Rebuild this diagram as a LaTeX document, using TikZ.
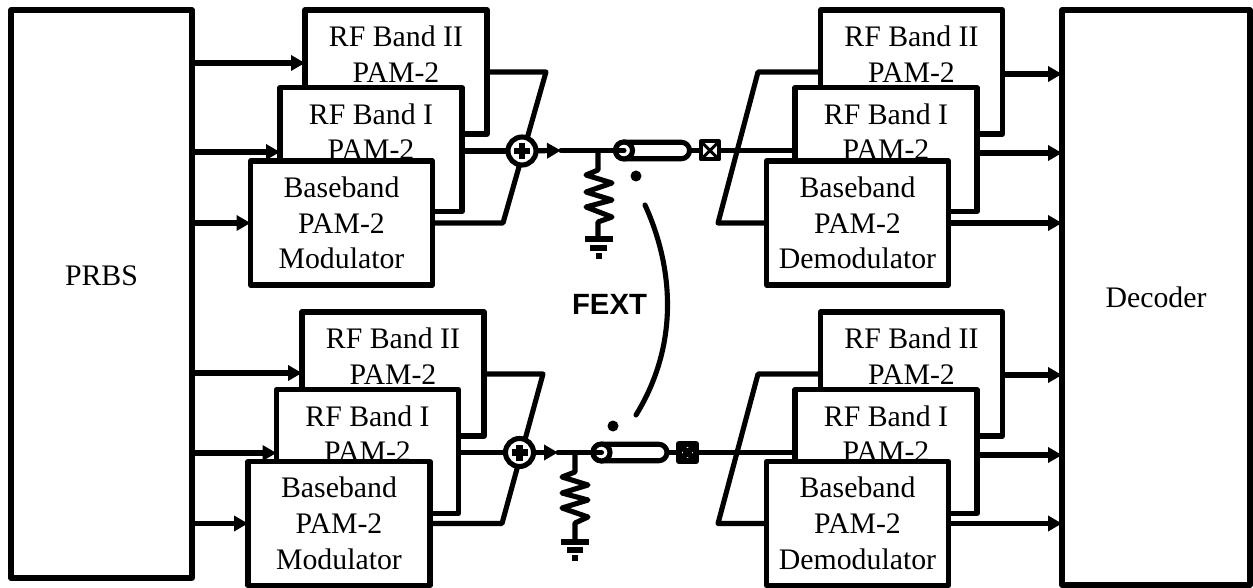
\documentclass[tikz,border=0pt]{standalone}
\usepackage{fontspec}
\setmainfont{Liberation Serif}
\newfontfamily\fextfont{Liberation Sans}
\usetikzlibrary{arrows.meta,shapes.misc}
\pgfdeclarelayer{bg}
\pgfsetlayers{bg,main}
\tikzset{
  lw/.style={line width=5.1pt,line join=round},
  txt/.style={font=\fontsize{29.8}{35.8}\selectfont,align=center},
  bigbox/.style={draw,lw,fill=white,inner sep=0pt,outer sep=0pt,txt},
  modbox/.style={bigbox,minimum width=182pt,minimum height=124pt},
  conn/.style={lw},
  arr/.style={lw,-{Triangle[length=14pt,width=15pt]}},
  sumnode/.style={circle,draw,lw,fill=white,inner sep=0pt,outer sep=0pt,minimum size=28pt,
    path picture={\draw[line width=6.5pt] (path picture bounding box.center) +(-8pt,0pt) -- +(8pt,0pt)
      (path picture bounding box.center) +(0pt,-8pt) -- +(0pt,8pt);}},
  capsule/.style={rounded rectangle,draw,lw,fill=white,inner sep=0pt,outer sep=0pt,minimum width=74pt,minimum height=16.5pt},
  coaxend/.style={circle,draw,lw,fill=white,inner sep=0pt,outer sep=0pt,minimum size=17pt},
  balun/.style={rectangle,draw,line width=#1,line join=round,fill=white,inner sep=0pt,outer sep=0pt},
  dotnode/.style={circle,fill=black,inner sep=0pt,outer sep=0pt,minimum size=11pt},
  gbar/.style={line width=5.5pt},
}
\begin{document}
\begin{tikzpicture}[x=1pt,y=-1pt]
\useasboundingbox (0,0) rectangle (1253,588);
% end blocks
\node[bigbox,minimum width=181pt,minimum height=568pt] (prbs) at (101.5,294) {PRBS\\\mbox{}};
\node[bigbox,minimum width=188pt,minimum height=575pt] (dec) at (1156,297.5) {Decoder};
% top left modulators
\node[modbox] (tb2) at (396,72) {RF Band II\\PAM-2\\\mbox{}};
\node[modbox] (tb1) at (371,149.5) {RF Band I\\PAM-2\\\mbox{}};
\node[modbox] (tb0) at (341.5,223) {Baseband\\PAM-2\\Modulator};
% bottom left modulators
\node[modbox] (bb2) at (393,374) {RF Band II\\PAM-2\\\mbox{}};
\node[modbox] (bb1) at (367.5,451.5) {RF Band I\\PAM-2\\\mbox{}};
\node[modbox] (bb0) at (339,523.5) {Baseband\\PAM-2\\Modulator};
% top right demodulators
\node[modbox] (tr2) at (911.5,72) {RF Band II\\PAM-2\\\mbox{}};
\node[modbox] (tr1) at (886,149.5) {RF Band I\\PAM-2\\\mbox{}};
\node[modbox] (tr0) at (857.5,223) {Baseband\\PAM-2\\Demodulator};
% bottom right demodulators
\node[modbox] (br2) at (911.5,374) {RF Band II\\PAM-2\\\mbox{}};
\node[modbox] (br1) at (886,451.5) {RF Band I\\PAM-2\\\mbox{}};
\node[modbox] (br0) at (857.5,523.5) {Baseband\\PAM-2\\Demodulator};
% summers, coax, baluns
\node[sumnode] (sum1) at (522,151) {};
\node[sumnode] (sum2) at (519.5,452.5) {};
\node[capsule] (cx1) at (652.5,150.5) {};
\node[capsule] (cx2) at (630,452.5) {};
\node[coaxend] (ce1) at (624,150.5) {};
\node[coaxend] (ce2) at (601.5,452.5) {};
\node[balun=4pt,minimum size=18pt] (bl1) at (710,150.5) {};
\node[balun=6pt,minimum size=17.5pt] (bl2) at (687.5,452.5) {};
\draw[line width=3pt] (bl1.north west) -- (bl1.south east) (bl1.north east) -- (bl1.south west);
\draw[line width=6pt] (bl2.north west) -- (bl2.south east) (bl2.north east) -- (bl2.south west);
% FEXT
\node[dotnode] (d1) at (636,176) {};
\node[dotnode] (d2) at (613,426) {};
\node[font=\fontsize{29.3}{32}\fextfont\bfseries,inner sep=0pt] (fext) at (609.5,304) {FEXT};
\coordinate (fa) at (645,205);
\coordinate (fb) at (636,415);
\draw[lw,line cap=round] (fa) .. controls (671,262) and (682,340) .. (fb);
% named connection points
\coordinate (j1) at (598,150.5);
\coordinate (j2) at (575,452.5);
\coordinate (a1) at (561,150.5);
\coordinate (a2) at (558,452.5);
\coordinate (g1) at (598,239);
\coordinate (g2) at (575,542);
\begin{pgfonlayer}{bg}
  % PRBS to modulators
  \coordinate (i1) at (tb2.west |- 0,63);
  \coordinate (i2) at (tb1.west |- 0,152);
  \coordinate (i3) at (bb2.west |- 0,373);
  \coordinate (i4) at (bb1.west |- 0,453);
  \draw[arr] (prbs.east |- i1) -- (i1);
  \draw[arr] (prbs.east |- i2) -- (i2);
  \draw[arr] (prbs.east |- tb0.west) -- (tb0.west);
  \draw[arr] (prbs.east |- i3) -- (i3);
  \draw[arr] (prbs.east |- i4) -- (i4);
  \draw[arr] (prbs.east |- bb0.west) -- (bb0.west);
  % demodulators to decoder
  \coordinate (o1) at (tr2.east |- 0,74);
  \coordinate (o2) at (tr1.east |- 0,153);
  \coordinate (o3) at (br2.east |- 0,375);
  \coordinate (o4) at (br1.east |- 0,455);
  \draw[arr] (o1) -- (dec.west |- o1);
  \draw[arr] (o2) -- (dec.west |- o2);
  \draw[arr] (tr0.east) -- (dec.west |- tr0.east);
  \draw[arr] (o3) -- (dec.west |- o3);
  \draw[arr] (o4) -- (dec.west |- o4);
  \draw[arr] (br0.east) -- (dec.west |- br0.east);
  % combiners
  \draw[conn] (tb2.east) -- (546,72) -- (503,223) -- (tb0.east);
  \draw[conn] (bb2.east) -- (543,374) -- (502,523.5) -- (bb0.east);
  \draw[conn] (tb1.east |- sum1) -- (sum1);
  \draw[conn] (bb1.east |- sum2) -- (sum2);
  \draw[arr] (sum1) -- (a1);
  \draw[arr] (sum2) -- (a2);
  % splitters
  \draw[conn] (tr2.west) -- (758,72) -- (718,223) -- (tr0.west);
  \draw[conn] (br2.west) -- (758,374) -- (718,523.5) -- (br0.west);
  \draw[conn] (cx1.east) -- (bl1.west);
  \draw[conn] (cx2.east) -- (bl2.west);
  \draw[conn] (bl1.east) -- (tr1.west |- bl1.east);
  \draw[conn] (bl2.east) -- (br1.west |- bl2.east);
  % terminations
  \draw[conn] (j1) -- (598,170) -- (586,175) -- (612,183) -- (586,192) -- (612,200) -- (586,207) -- (612,217) -- (598,222) -- (g1);
  \draw[conn] (j2) -- (575,472) -- (562,477) -- (588,485) -- (562,493) -- (588,500) -- (562,508) -- (588,517) -- (575,523) -- (g2);
\end{pgfonlayer}
% coax centre conductor
\draw[lw,line cap=round] (a1) -- (ce1.center);
\draw[lw,line cap=round] (a2) -- (ce2.center);
% grounds
\draw[gbar] (585,239) -- (613,239) (590,248) -- (607,248) (596,256) -- (602,256);
\draw[gbar] (561,542) -- (589,542) (567,550) -- (583,550) (572,558) -- (578,558);
\end{tikzpicture}
\end{document}
